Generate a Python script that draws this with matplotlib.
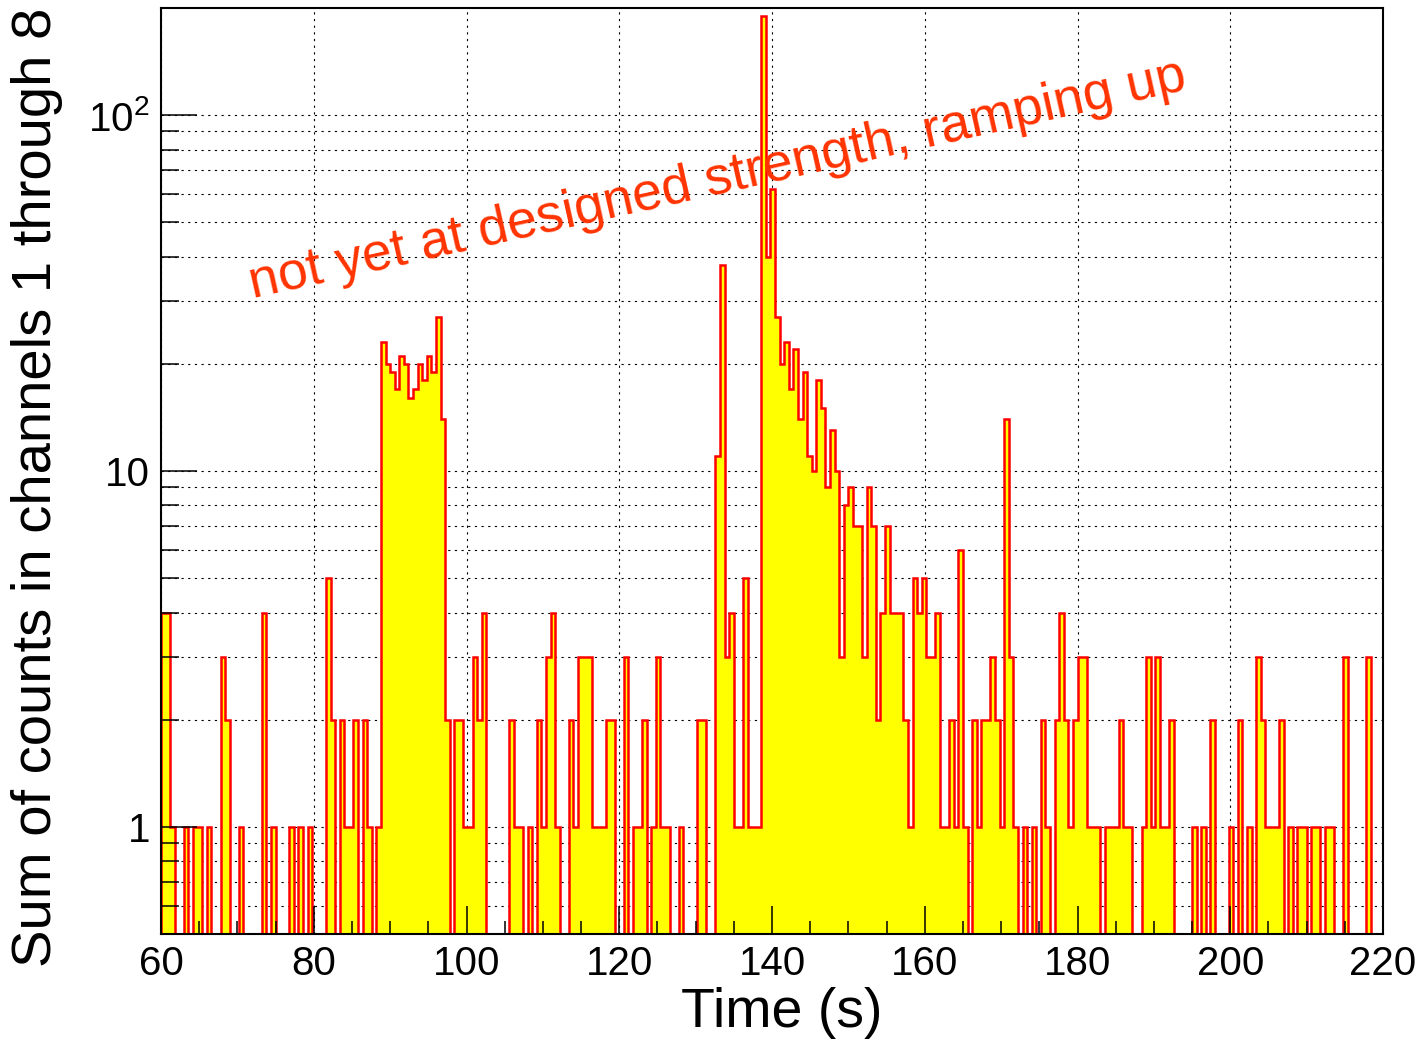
import numpy as np
import matplotlib
matplotlib.use("Agg")
import matplotlib.pyplot as plt
from matplotlib.ticker import FixedLocator, MultipleLocator, NullFormatter, LogLocator

plt.rcParams['font.family'] = ['Liberation Sans', 'DejaVu Sans']
plt.rcParams['mathtext.fontset'] = 'custom'
plt.rcParams['mathtext.rm'] = 'Liberation Sans'

# histogram: 0.6 s bins starting at 60 s
t_start = 60.0
bin_width = 0.6
counts = [
    4, 4, 1, 0, 0, 1, 0, 1, 1, 0, 1, 0, 0, 3, 2, 0, 0, 1, 0, 0,
    0, 0, 4, 0, 1, 0, 0, 0, 1, 0, 1, 0, 1, 0, 0, 0, 5, 2, 0, 2,
    1, 1, 2, 0, 2, 1, 0, 1, 23, 20, 19, 17, 21, 20, 16, 17, 20, 18, 21, 19,
    27, 14, 2, 0, 2, 2, 1, 1, 3, 2, 4, 0, 0, 0, 0, 0, 2, 1, 1, 0,
    1, 0, 2, 1, 3, 4, 1, 0, 0, 2, 1, 3, 3, 3, 1, 1, 1, 2, 2, 0,
    0, 3, 0, 1, 1, 2, 0, 1, 3, 1, 1, 0, 0, 1, 0, 0, 0, 2, 2, 0,
    0, 11, 38, 3, 4, 1, 1, 5, 1, 1, 1, 190, 40, 62, 27, 20, 23, 17, 22, 14,
    19, 11, 10, 18, 15, 9, 13, 10, 3, 8, 9, 7, 7, 3, 9, 7, 2, 4, 7, 4,
    4, 4, 2, 1, 5, 4, 5, 3, 3, 4, 1, 1, 2, 1, 6, 1, 0, 2, 1, 2,
    2, 3, 2, 1, 14, 3, 1, 0, 1, 0, 1, 0, 2, 1, 0, 2, 4, 2, 1, 2,
    3, 3, 1, 1, 1, 0, 1, 1, 1, 2, 1, 1, 0, 0, 1, 3, 1, 3, 1, 1,
    2, 0, 0, 0, 0, 1, 0, 1, 0, 2, 0, 0, 0, 1, 0, 2, 0, 1, 0, 3,
    2, 1, 1, 1, 2, 0, 1, 0, 1, 1, 0, 1, 1, 0, 1, 1, 0, 0, 3, 0,
    0, 0, 0, 3, 0, 0, 0,
]

x_ticks = [60, 80, 100, 120, 140, 160, 180, 200, 220]
y_ticks = [1, 10, 100]
y_tick_labels = ['1', '10', r'$\mathregular{10^{2}}$']
note = 'not yet at designed strength, ramping up'

W, H = 1420, 1042
fig = plt.figure(figsize=(W / 100, H / 100), dpi=100)
ax = fig.add_axes([161 / W, 1 - 934 / H, 1222 / W, 926 / H])
ax.set_yscale('log')
ax.set_xlim(60, 220)
ax.set_ylim(0.5, 200)

edges = t_start + bin_width * np.arange(len(counts) + 1)
vals = np.array(counts, dtype=float)
shown = np.where(vals > 0, vals, 1e-3)
ax.stairs(shown, edges, baseline=1e-3, fill=True, color='#ffff00', lw=0, zorder=1)
ax.stairs(shown, edges, baseline=1e-3, color='#ff0000', lw=1.8, zorder=2)

# dotted grid behind the histogram, ticks stay on top
dots = (0, (2, 4))
for x in x_ticks:
    ax.axvline(x, color='k', lw=0.8, ls=dots, zorder=0.5)
ygrid = [d * m for d in [0.1, 1, 10, 100] for m in range(1, 10)]
for y in ygrid:
    if 0.5 < y < 200:
        ax.axhline(y, color='k', lw=0.8, ls=dots, zorder=0.5)

ax.set_axisbelow(False)
ax.xaxis.set_major_locator(FixedLocator(x_ticks))
ax.set_xticklabels([str(x) for x in x_ticks])
ax.xaxis.set_minor_locator(MultipleLocator(5))
ax.yaxis.set_major_locator(FixedLocator(y_ticks))
ax.set_yticklabels(y_tick_labels)
ax.yaxis.set_minor_locator(LogLocator(base=10, subs=np.arange(2, 10)))
ax.yaxis.set_minor_formatter(NullFormatter())

ax.tick_params(axis='both', which='both', direction='in', top=False, right=False,
               labelsize=29, width=1.1, colors='k')
ax.tick_params(axis='x', which='major', length=20, pad=8)
ax.tick_params(axis='x', which='minor', length=9.5)
ax.tick_params(axis='y', which='major', length=26, pad=8)
ax.tick_params(axis='y', which='minor', length=13)
for s in ax.spines.values():
    s.set_linewidth(1.5)

fig.text(782 / W, 1 - 1013 / H, 'Time (s)', fontsize=40, ha='center', va='center')
fig.text(37 / W, 1 - 487 / H, 'Sum of counts in channels 1 through 8', fontsize=40.5,
         rotation=90, ha='center', va='center')

ax.text(72.0, 30.5, note, color='#ff3300', fontsize=38.5, rotation=12.6,
        rotation_mode='anchor', ha='left', va='baseline', zorder=3)

fig.savefig('out.png', dpi=100)
